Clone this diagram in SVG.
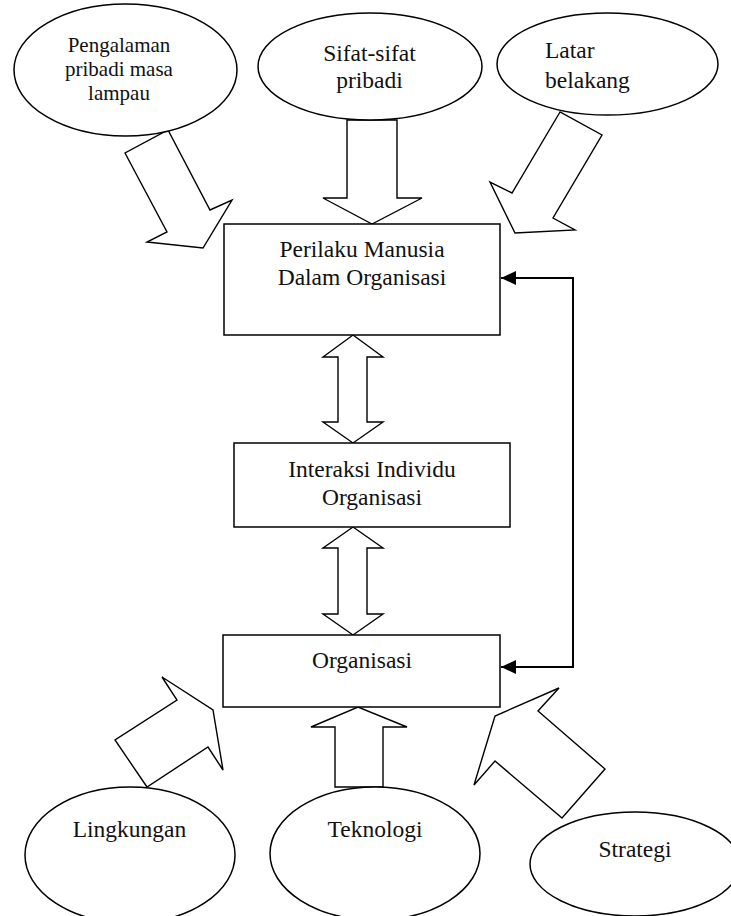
<svg xmlns="http://www.w3.org/2000/svg" width="731" height="916" viewBox="0 0 731 916">
<style>
  .bg { fill: #ffffff; }
  .shape { fill: #ffffff; stroke: #000000; stroke-width: 1.5; }
  .barrow { fill: #ffffff; stroke: #000000; stroke-width: 1.4; stroke-linejoin: miter; }
  .line { fill: none; stroke: #000000; stroke-width: 2; }
  text { font-family: "Liberation Serif", "Times New Roman", serif; font-size: 23.5px; fill: #111111; }
  .mid { text-anchor: middle; }
  .small { font-size: 21px; }
</style>
<defs>
  <marker id="head" markerUnits="userSpaceOnUse" viewBox="0 0 15 14" refX="15" refY="7" markerWidth="15" markerHeight="14" orient="auto-start-reverse">
    <path d="M0,0 L15,7 L0,14 Z" fill="#000000"/>
  </marker>
</defs>
<rect class="bg" x="0" y="0" width="731" height="916"/>

<g id="connectors">
  <!-- Pengalaman -> Perilaku -->
  <polygon class="barrow" points="125,153 167,232 147,242 203,248 232,200 210,210 168,130"/>
  <!-- Sifat -> Perilaku -->
  <polygon class="barrow" points="347,120 397,120 397,198 422,198 372,224 323,198 347,198"/>
  <!-- Latar -> Perilaku -->
  <polygon class="barrow" points="560,112 512,193 490,182 515,233 575,230 553,218 602,135"/>
  <!-- Perilaku <-> Interaksi -->
  <polygon class="barrow" points="353,335 383,357 367,357 367,422 383,422 353,443 323,422 338,422 338,357 323,357"/>
  <!-- Interaksi <-> Organisasi -->
  <polygon class="barrow" points="353,527 383,548 367,548 367,614 383,614 353,635 323,614 338,614 338,548 323,548"/>
  <!-- Lingkungan -> Organisasi -->
  <polygon class="barrow" points="147,787 115,740 177,700 162,677 213,710 223,770 208,747"/>
  <!-- Teknologi -> Organisasi -->
  <polygon class="barrow" points="335,787 335,727 311,727 358,707 407,727 383,727 383,787"/>
  <!-- Strategi -> Organisasi -->
  <polygon class="barrow" points="562,818 605,769 538,711 559,688 495,716 474,785 495,761"/>
  <!-- Feedback Organisasi <-> Perilaku -->
  <path class="line" d="M501,278 H573 V667 H501" marker-start="url(#head)" marker-end="url(#head)"/>
</g>

<g id="node-pengalaman">
  <ellipse class="shape" cx="125.5" cy="70" rx="111.5" ry="66"/>
  <text class="mid small" x="119" y="52">Pengalaman</text>
  <text class="mid small" x="119" y="76">pribadi masa</text>
  <text class="mid small" x="119" y="100">lampau</text>
</g>

<g id="node-sifat">
  <ellipse class="shape" cx="370" cy="66.5" rx="112" ry="53.5"/>
  <text class="mid" x="369.5" y="61">Sifat-sifat</text>
  <text class="mid" x="369.5" y="88">pribadi</text>
</g>

<g id="node-latar">
  <ellipse class="shape" cx="607.5" cy="64" rx="110.5" ry="51"/>
  <text x="545" y="58">Latar</text>
  <text x="545" y="88">belakang</text>
</g>

<g id="node-perilaku">
  <rect class="shape" x="224" y="224" width="276" height="111"/>
  <text class="mid" x="362" y="257">Perilaku Manusia</text>
  <text class="mid" x="362" y="285">Dalam Organisasi</text>
</g>

<g id="node-interaksi">
  <rect class="shape" x="234" y="443" width="276" height="84"/>
  <text class="mid" x="372" y="477">Interaksi Individu</text>
  <text class="mid" x="372" y="505">Organisasi</text>
</g>

<g id="node-organisasi">
  <rect class="shape" x="223" y="635" width="277" height="72"/>
  <text class="mid" x="362" y="668">Organisasi</text>
</g>

<g id="node-lingkungan">
  <ellipse class="shape" cx="130" cy="855" rx="105" ry="68"/>
  <text class="mid" x="129.5" y="837">Lingkungan</text>
</g>

<g id="node-teknologi">
  <ellipse class="shape" cx="375" cy="853.5" rx="105" ry="66.5"/>
  <text class="mid" x="375" y="837">Teknologi</text>
</g>

<g id="node-strategi">
  <ellipse class="shape" cx="635" cy="864" rx="105" ry="52"/>
  <text class="mid" x="635" y="857">Strategi</text>
</g>
</svg>
